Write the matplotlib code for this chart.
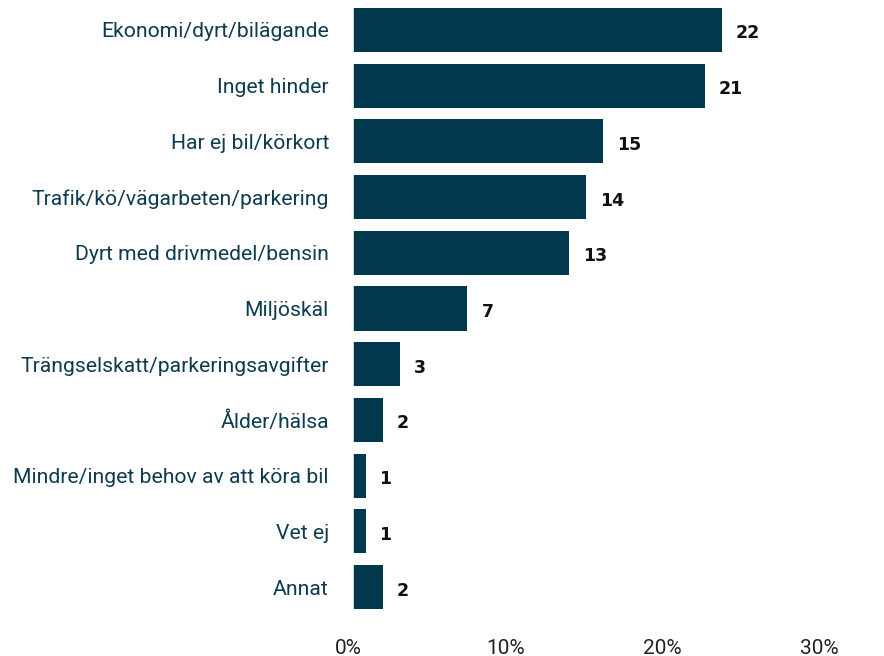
import matplotlib.pyplot as plt

CATEGORIES = [
    "Ekonomi/dyrt/bilägande",
    "Inget hinder",
    "Har ej bil/körkort",
    "Trafik/kö/vägarbeten/parkering",
    "Dyrt med drivmedel/bensin",
    "Miljöskäl",
    "Trängselskatt/parkeringsavgifter",
    "Ålder/hälsa",
    "Mindre/inget behov av att köra bil",
    "Vet ej",
    "Annat",
]
VALUES = [22, 21, 15, 14, 13, 7, 3, 2, 1, 1, 2]
TICKS = [0, 10, 20, 30]

BAR_COLOR = "#02384d"
LABEL_COLOR = "#0d3b4f"

W, H = 884, 656
PX = 16.97     # pixels per unit along the bars
ZERO = 348.7   # pixel of the bars' zero
TPX = 15.68    # pixels per unit of the tick labels (they don't line up with bars)


def bar_to_tick(v):
    return (PX * v + ZERO - 348.5) / TPX


def tick_to_bar(t):
    return (TPX * t + 348.5 - ZERO) / PX


def main():
    fig = plt.figure(figsize=(W / 100, H / 100), dpi=100)
    x0 = -1.0
    left = (ZERO + x0 * PX) / W
    width = (30 - x0) * PX / W
    top_px, bot_px = 2.0, 615.0
    ax = fig.add_axes([left, 1 - bot_px / H, width, (bot_px - top_px) / H])

    ys = range(len(CATEGORIES))
    ax.barh(ys, VALUES, height=0.79, color=BAR_COLOR)
    ax.set_xlim(x0, 30)
    ax.set_ylim(len(CATEGORIES) - 0.5, -0.5)

    # small white gap between the zero line and the bars
    ax.axvline(0, color="white", lw=6.2, zorder=3)

    ax.set_yticks(list(ys))
    ax.set_yticklabels(CATEGORIES, family="Roboto", fontsize=15.2,
                       color=LABEL_COLOR)
    ax.tick_params(axis="y", length=0, pad=2)
    ax.tick_params(axis="x", bottom=False, labelbottom=False)
    for s in ax.spines.values():
        s.set_visible(False)

    for y, v in zip(ys, VALUES):
        ax.annotate(str(v), (v, y), xytext=(10, -2.5), textcoords="offset points",
                    ha="left", va="center", fontsize=12.5, fontweight="bold",
                    family="DejaVu Sans", color="#111111")

    sec = ax.secondary_xaxis("bottom", functions=(bar_to_tick, tick_to_bar))
    sec.set_xticks(TICKS)
    sec.set_xticklabels([f"{t}%" for t in TICKS], family="Roboto",
                        fontsize=15, color="#222222")
    sec.tick_params(length=0, pad=17)
    sec.spines["bottom"].set_visible(False)

    fig.savefig("out.png", dpi=100)


if __name__ == "__main__":
    main()
